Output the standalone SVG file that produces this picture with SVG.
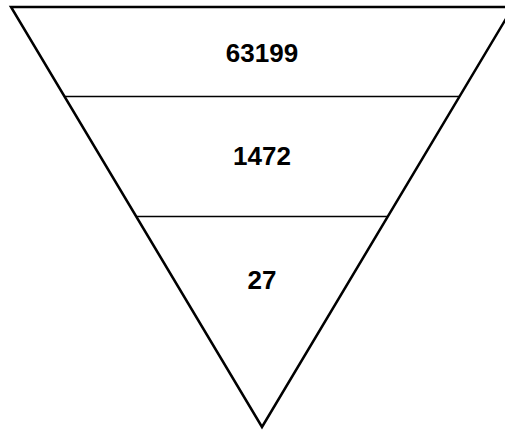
<svg xmlns="http://www.w3.org/2000/svg" width="505" height="430" viewBox="0 0 505 430">
<style>
.edge{fill:none;stroke:#000;stroke-width:2.5;stroke-linejoin:miter}
.div{stroke:#000;stroke-width:1.5}
.lbl{font-family:"Liberation Sans",Arial,sans-serif;font-weight:bold;font-size:26px;fill:#000;text-anchor:middle}
</style>
<rect width="505" height="430" fill="#fff"/>
<g id="funnel">
<polygon class="edge" points="11,7 513,7 262,427"/>
</g>
<g id="connectors">
<line class="div" x1="64" y1="96.5" x2="460" y2="96.5"/>
<line class="div" x1="136" y1="216.5" x2="388" y2="216.5"/>
</g>
<g id="level1"><text class="lbl" x="262" y="62">63199</text></g>
<g id="level2"><text class="lbl" x="262" y="165">1472</text></g>
<g id="level3"><text class="lbl" x="262" y="289">27</text></g>
</svg>
